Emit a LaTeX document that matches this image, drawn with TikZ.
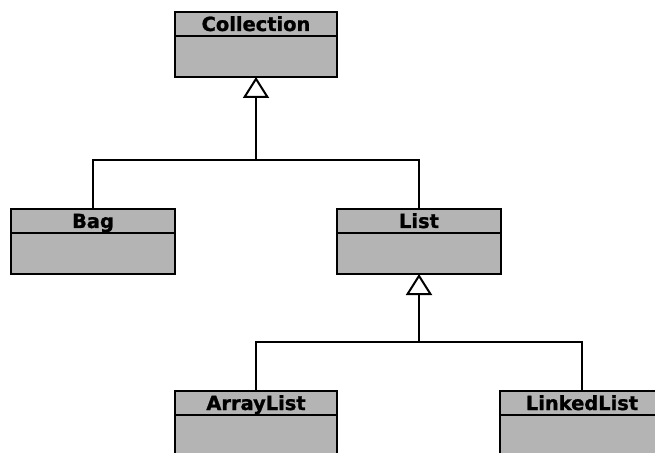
\documentclass[tikz,border=0pt]{standalone}
\usepackage{fontspec}
\newfontfamily\klassenschrift{DejaVu Sans Bold}[FakeBold=1.2]
\usepackage{tikz}
\usetikzlibrary{positioning, arrows.meta}
\definecolor{umlgrau}{HTML}{B4B4B4}

\tikzset{
    kopf/.style={draw, fill=umlgrau, line width=2bp, outer sep=0pt, inner sep=0pt,
        minimum width=164bp, minimum height=24bp, text height=19bp, text depth=5bp,
        font=\klassenschrift\fontsize{19.5}{19.5}\selectfont},
    rumpf/.style={draw, fill=umlgrau, line width=2bp, outer sep=0pt,
        minimum width=164bp, minimum height=41bp},
    erbt/.style={line width=2bp, -{Triangle[open, length=21bp, width=26bp, line width=2bp]}},
    linie/.style={line width=2bp}
}

\begin{document}
\begin{tikzpicture}[x=1bp, y=-1bp]
    % Rahmen auf die Bildgroesse festlegen
    \useasboundingbox (0,0) rectangle (655,453);
    \clip (0,0) rectangle (655,453);

    % --- 1. OBERKLASSE ---
    \node[kopf, minimum width=162bp] (collection) at (256,24) {Collection};
    \node[rumpf, minimum width=162bp, below=0pt of collection] (collectionb) {};

    % --- 2. MITTLERE EBENE ---
    \node[kopf] (bag) at (93,221) {Bag};
    \node[rumpf, below=0pt of bag] (bagb) {};
    \node[kopf] (list) at (419,221) {List};
    \node[rumpf, below=0pt of list] (listb) {};

    % --- 3. UNTERE EBENE (unten abgeschnitten) ---
    \node[kopf, minimum width=162bp] (arraylist) at (256,403) {ArrayList};
    \node[rumpf, minimum width=162bp, below=0pt of arraylist] (arraylistb) {};
    \node[kopf] (linkedlist) at (582,403) {LinkedList};
    \node[rumpf, below=0pt of linkedlist] (linkedlistb) {};

    % Vererbungspfeile
    \coordinate (j1) at (collectionb.south |- 0,160);
    \coordinate (j2) at (listb.south |- 0,342);
    \draw[erbt] (j1) -- (collectionb.south);
    \draw[linie] (bag.north) |- (j1) -| (list.north);
    \draw[erbt] (j2) -- (listb.south);
    \draw[linie] (arraylist.north) |- (j2) -| (linkedlist.north);

\end{tikzpicture}
\end{document}
